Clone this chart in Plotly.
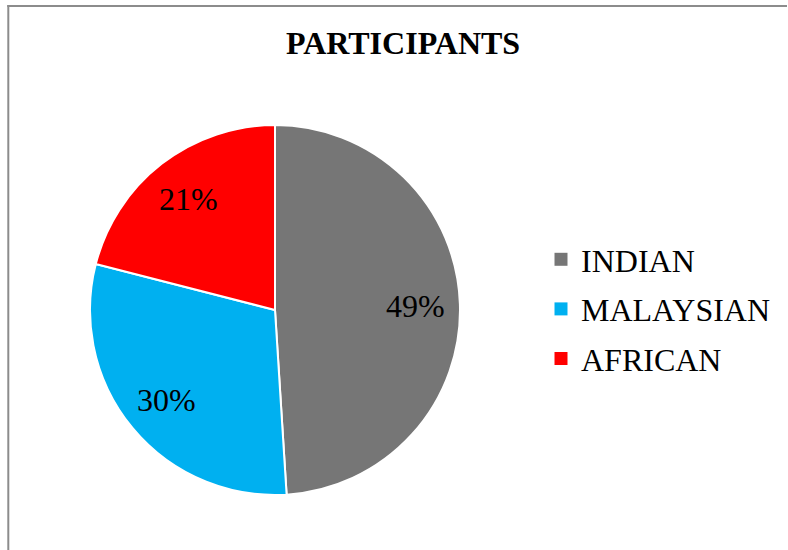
import math
import plotly.graph_objects as go

# ---- data ----
labels = ["INDIAN", "MALAYSIAN", "AFRICAN"]
values = [49, 30, 21]
colors = ["#767676", "#00B0F0", "#FF0000"]
title_text = "PARTICIPANTS"

W, H = 788, 550
FONT = "Liberation Serif"

# pie placement (paper fractions, margins are zero so paper == page)
cx, cy, R = 275, 310, 185
dom_x = [(cx - R) / W, (cx + R) / W]
dom_y = [1 - (cy + R) / H, 1 - (cy - R) / H]

fig = go.Figure()
fig.add_trace(go.Pie(
    labels=labels,
    values=values,
    marker=dict(colors=colors, line=dict(color="white", width=2)),
    sort=False,
    direction="clockwise",
    rotation=0,
    textinfo="none",
    hoverinfo="label+percent",
    domain=dict(x=dom_x, y=dom_y),
    showlegend=False,
))

# legend entries (one group each so the spacing can be set)
for lab, col in zip(labels, colors):
    fig.add_trace(go.Scatter(
        x=[None], y=[None], mode="markers", name=lab,
        legendgroup=lab,
        marker=dict(symbol="square", size=13, color=col),
        hoverinfo="skip",
    ))

# percentage labels placed along each slice's bisector
total = sum(values)
annotations = []
cum = 0.0
for lab, v in zip(labels, values):
    frac = v / total
    mid = (cum + frac / 2) * 2 * math.pi  # clockwise from 12 o'clock
    cum += frac
    rr = 0.76 * R
    px = cx + rr * math.sin(mid)
    py = cy - rr * math.cos(mid)
    annotations.append(dict(
        x=px / W, y=1 - py / H, xref="paper", yref="paper",
        text=f"{frac * 100:.0f}%", showarrow=False,
        font=dict(family=FONT, size=32, color="black"),
        xanchor="center", yanchor="middle",
    ))

annotations.append(dict(
    x=403 / W, y=1 - 43 / H, xref="paper", yref="paper",
    text=f"<b>{title_text}</b>", showarrow=False,
    font=dict(family=FONT, size=32, color="black"),
    xanchor="center", yanchor="middle",
))

shapes = [
    dict(type="line", xref="paper", yref="paper",
         x0=8.3 / W, x1=8.3 / W, y0=1 - 5 / H, y1=0,
         line=dict(color="#8c8c8c", width=2)),
    dict(type="line", xref="paper", yref="paper",
         x0=7.3 / W, x1=787 / W, y0=1 - 6 / H, y1=1 - 6 / H,
         line=dict(color="#8c8c8c", width=2)),
]

fig.update_layout(
    width=W, height=H,
    margin=dict(l=0, r=0, t=0, b=0),
    paper_bgcolor="white",
    plot_bgcolor="rgba(0,0,0,0)",
    font=dict(family=FONT, color="black"),
    annotations=annotations,
    shapes=shapes,
    xaxis=dict(visible=False),
    yaxis=dict(visible=False),
    legend=dict(
        x=541 / W, y=1 - 309 / H, xanchor="left", yanchor="middle",
        font=dict(family=FONT, size=32, color="black"),
        bgcolor="rgba(0,0,0,0)",
        tracegroupgap=5,
        traceorder="grouped",
    ),
)

fig.write_html("out.html", config={"displayModeBar": False},
               post_script="document.body.style.margin='0';")
